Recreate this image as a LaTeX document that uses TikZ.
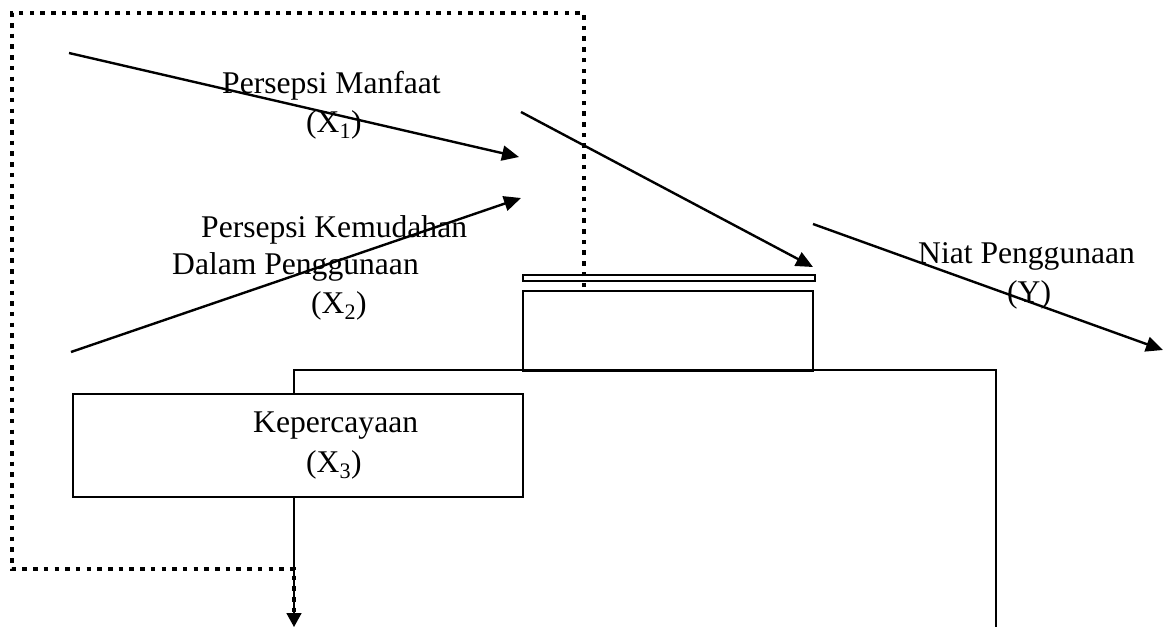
\documentclass[tikz,border=0pt]{standalone}
\usepackage{fontspec}
\setmainfont{Liberation Serif}
\usetikzlibrary{arrows.meta}
\tikzset{
  lbl/.style={inner sep=0pt, anchor=base west, font=\fontsize{31.6}{39}\selectfont},
  conn/.style={line width=2.4pt, -{Triangle[length=17pt,width=15pt]}},
  boxline/.style={line width=1.7pt},
  dotline/.style={line width=4.5pt, dash pattern=on 4.5pt off 6.2pt},
}
\begin{document}
\begin{tikzpicture}[x=1pt,y=-1pt]
\useasboundingbox (0,0) rectangle (1168,627);
% coordinates
\coordinate (a1s) at (69,53);
\coordinate (a1e) at (519,157);
\coordinate (a2s) at (71,352);
\coordinate (a2e) at (521,198);
\coordinate (a3s) at (521,112);
\coordinate (a3e) at (813,267);
\coordinate (a4s) at (813,224);
\coordinate (a4e) at (1163,350);
\coordinate (dA) at (294,569);
\coordinate (dB) at (12,569);
\coordinate (dC) at (12,13);
\coordinate (dD) at (584,13);
\coordinate (dE) at (584,287);
\coordinate (dF) at (294,614);
\coordinate (lA) at (294,393);
\coordinate (lB) at (294,370);
\coordinate (lC) at (996,370);
\coordinate (lD) at (996,627);
\coordinate (kB) at (294,496);
\coordinate (kE) at (294,627);
% boxes
\node[boxline, draw, minimum width=450pt, minimum height=103pt, anchor=north west, inner sep=0pt] (kep) at (72,393) {};
\node[boxline, draw, minimum width=290pt, minimum height=80pt, anchor=north west, inner sep=0pt] (ub) at (522,290) {};
\node[line width=1.5pt, draw, minimum width=292pt, minimum height=6pt, anchor=north west, inner sep=0pt] (thin) at (522,274) {};
% solid connector lines
\draw[boxline] (lA) -- (lB) -- (lC) -- (lD);
\draw[line width=1.7pt, -{Triangle[length=14pt,width=15pt]}] (kB) -- (kE);
% dotted path
\draw[dotline] (dE) -- (dD) -- (dC) -- (dB) -- (dA) -- (dF);
% arrows
\draw[conn] (a1s) -- (a1e);
\draw[conn] (a2s) -- (a2e);
\draw[conn] (a3s) -- (a3e);
\draw[conn] (a4s) -- (a4e);
% labels
\node[lbl] (t1) at (222,93) {Persepsi Manfaat};
\node[lbl] (t1x) at (306,132) {(X\textsubscript{1})};
\node[lbl] (t2) at (201,237) {Persepsi Kemudahan};
\node[lbl] (t2b) at (172,274) {Dalam Penggunaan};
\node[lbl] (t2x) at (311,313) {(X\textsubscript{2})};
\node[lbl] (t3) at (253,432) {Kepercayaan};
\node[lbl] (t3x) at (306,472) {(X\textsubscript{3})};
\node[lbl] (ty) at (918,263) {Niat Penggunaan};
\node[lbl] (tyx) at (1007,302) {(Y)};
\end{tikzpicture}
\end{document}
